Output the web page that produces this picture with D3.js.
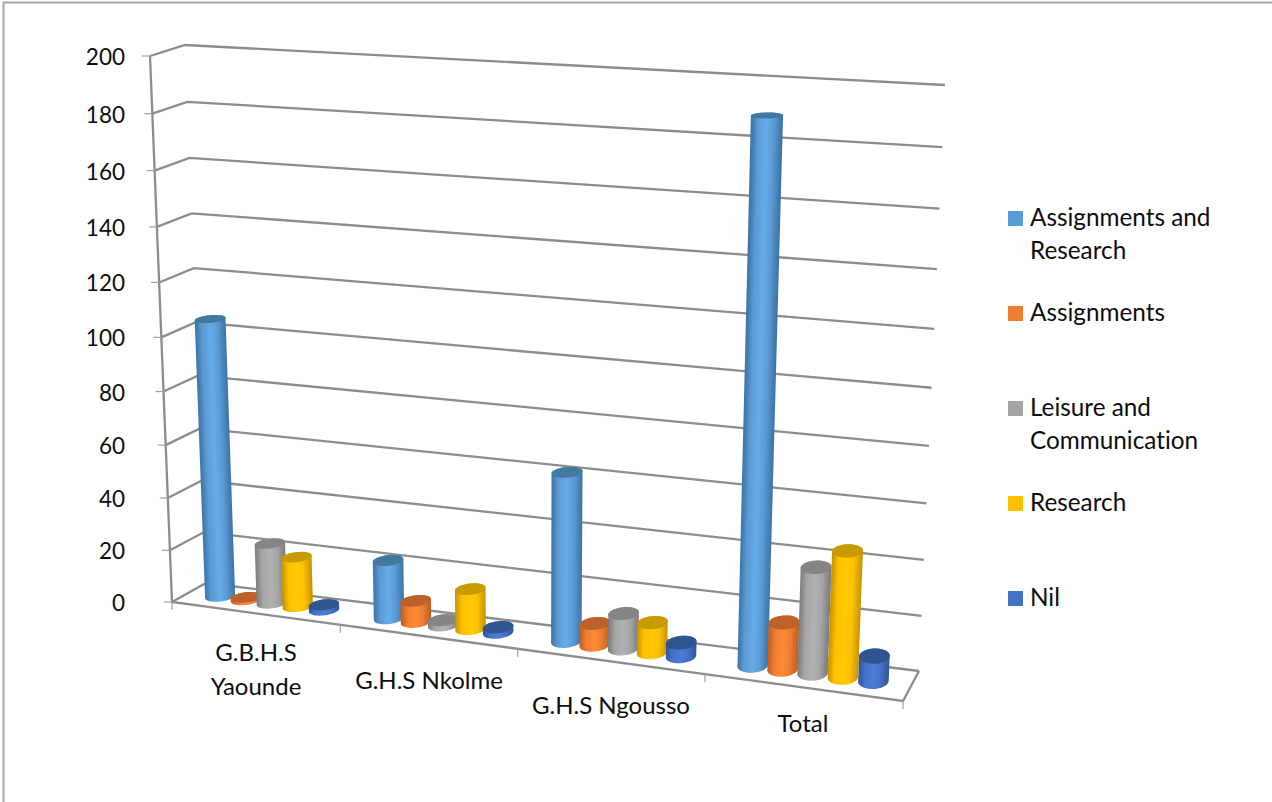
<!DOCTYPE html>
<html>
<head>
<meta charset="utf-8">
<script src="https://cdn.jsdelivr.net/npm/d3@7/dist/d3.min.js"></script>
<style>
  html, body { margin: 0; padding: 0; background: #fff; }
  svg { display: block; }
  text { font-family: Lato, "Open Sans", sans-serif; fill: #0d0d0d; font-variant-ligatures: none; }
</style>
</head>
<body>
<svg id="chart" width="1272" height="802"></svg>
<script>
// Chart content
const categories = ["G.B.H.S Yaounde", "G.H.S Nkolme", "G.H.S Ngousso", "Total"];
const seriesNames = ["Assignments and Research", "Assignments", "Leisure and Communication", "Research", "Nil"];
const assignmentsResearch = [105, 22, 62, 189];
const assignments = [1, 8, 8, 17];
const leisureCommunication = [23, 2, 13, 38];
const research = [19, 15, 11, 45];
const nil = [2, 2, 5, 9];
const seriesValues = [assignmentsResearch, assignments, leisureCommunication, research, nil];
const valueTicks = [0, 20, 40, 60, 80, 100, 120, 140, 160, 180, 200];

// Per-series palette: swatch, cylinder shading and lid
const swatchColors = ["#5B9BD5", "#ED7D31", "#A5A5A5", "#FFC000", "#4472C4"];
const edgeColors = ["#3C74A6", "#BD5E22", "#7B7B7B", "#C49400", "#2F5597"];
const lightColors = ["#66ABE8", "#FF8A36", "#B2B2B2", "#FFCB05", "#4A7DD8"];
const lidColors = ["#44789F", "#BE6029", "#858585", "#C79A00", "#305490"];

const svg = d3.select("#chart");
const defs = svg.append("defs");

// Frame around the chart area, open on the right and at the bottom
svg.append("path").attr("d", "M3.5,802V2.5H1272").attr("fill", "none").attr("stroke", "#A6A6A6").attr("stroke-width", 2);

// Heckbert's unit square to quad homography; corners ordered (0,0) (1,0) (1,1) (0,1)
function squareToQuad([p0, p1, p2, p3]) {
  const dx1 = p1[0] - p2[0], dx2 = p3[0] - p2[0], sx = p0[0] - p1[0] + p2[0] - p3[0];
  const dy1 = p1[1] - p2[1], dy2 = p3[1] - p2[1], sy = p0[1] - p1[1] + p2[1] - p3[1];
  const den = dx1 * dy2 - dx2 * dy1;
  const g = (sx * dy2 - dx2 * sy) / den;
  const h = (dx1 * sy - sx * dy1) / den;
  const a = p1[0] - p0[0] + g * p1[0], b = p3[0] - p0[0] + h * p3[0], c = p0[0];
  const d = p1[1] - p0[1] + g * p1[1], e = p3[1] - p0[1] + h * p3[1], f = p0[1];
  return (u, v) => {
    const q = g * u + h * v + 1;
    return [(a * u + b * v + c) / q, (d * u + e * v + f) / q];
  };
}

// Back and front planes of the 3-D box, in screen space: bottom-left, bottom-right, top-right, top-left
const backPlane = squareToQuad([[206, 583], [919, 671], [945, 85], [185, 45]]);
const frontPlane = squareToQuad([[172, 602], [903, 701], [930, 95], [150, 56]]);
// u along categories, t up the value axis, w from back wall (0) to front edge (1)
function project(u, t, w) {
  const b = backPlane(u, t), f = frontPlane(u, t);
  return [b[0] + (f[0] - b[0]) * w, b[1] + (f[1] - b[1]) * w];
}

const yScale = d3.scaleLinear().domain([0, 200]).range([0, 1]);
const xScale = d3.scaleBand().domain(categories).range([0, 1]);
const seriesScale = d3.scaleBand().domain(seriesNames).range([0, xScale.bandwidth()]).paddingInner(0).paddingOuter(0.72);
const radiusU = seriesScale.bandwidth() * 0.475;
const radiusW = 0.26;
const depthW = 0.5;

const line = d3.line();
const gridColor = "#8C8C8C";

// Walls: each gridline folds at the back-left corner
const grid = svg.append("g").attr("fill", "none").attr("stroke", gridColor).attr("stroke-width", 2.3);
grid.selectAll("path.grid").data(valueTicks).join("path").attr("class", "grid")
  .attr("d", v => line([project(0, yScale(v), 1), project(0, yScale(v), 0), project(1, yScale(v), 0)]));

// Value axis, front floor edge and right floor edge
grid.append("path").attr("d", line([project(0, 1, 1), project(0, 0, 1), project(1, 0, 1), project(1, 0, 0)]));

// Tick marks
const ticks = svg.append("g").attr("fill", "none").attr("stroke", "#A0A0A0").attr("stroke-width", 1.2);
ticks.selectAll("path.vtick").data(valueTicks).join("path").attr("class", "vtick")
  .attr("d", v => { const p = project(0, yScale(v), 1); return line([[p[0] - 8, p[1]], p]); });
const tickEdges = categories.map(c => xScale(c)).concat([1]);
ticks.selectAll("path.xtick").data(tickEdges).join("path").attr("class", "xtick")
  .attr("d", u => { const p = project(u, 0, 1); return line([p, [p[0], p[1] + 8]]); });

// Disc of a cylinder at a given value height, as a projected polygon
function disc(cu, t) {
  return d3.range(48).map(i => {
    const a = i / 48 * 2 * Math.PI;
    return project(cu + radiusU * Math.cos(a), t, depthW + radiusW * Math.sin(a));
  });
}

// Cylinders
const bars = svg.append("g");
const closedLine = d3.line().curve(d3.curveLinearClosed);
seriesNames.forEach((name, s) => {
  categories.forEach((cat, c) => {
    const cu = xScale(cat) + seriesScale(name) + seriesScale.bandwidth() / 2;
    const top = yScale(seriesValues[s][c]);
    const baseDisc = disc(cu, 0), topDisc = disc(cu, top);
    const base = project(cu, 0, depthW), head = project(cu, top, depthW);
    const ax = head[0] - base[0], ay = head[1] - base[1], len = Math.hypot(ax, ay) || 1;
    const nx = -ay / len, ny = ax / len;
    const r = d3.max(baseDisc, p => Math.abs((p[0] - base[0]) * nx + (p[1] - base[1]) * ny));
    const id = `shade-${s}-${c}`;
    const grad = defs.append("linearGradient").attr("id", id).attr("gradientUnits", "userSpaceOnUse")
      .attr("x1", base[0] - nx * r).attr("y1", base[1] - ny * r)
      .attr("x2", base[0] + nx * r).attr("y2", base[1] + ny * r);
    [[0, edgeColors[s]], [0.22, swatchColors[s]], [0.5, lightColors[s]], [0.72, swatchColors[s]], [1, edgeColors[s]]]
      .forEach(([o, col]) => grad.append("stop").attr("offset", o).attr("stop-color", col));
    const hull = d3.polygonHull(baseDisc.concat(topDisc));
    bars.append("path").attr("d", closedLine(hull)).attr("fill", `url(#${id})`);
    bars.append("path").attr("d", closedLine(topDisc)).attr("fill", lidColors[s]);
  });
});

// Value labels
svg.append("g").selectAll("text").data(valueTicks).join("text")
  .attr("x", 125)
  .attr("y", v => project(0, yScale(v), 1)[1] + 9)
  .attr("text-anchor", "end")
  .attr("font-size", 22.5)
  .text(v => v);

// Category labels, wrapped as laid out under the floor
const categoryLines = [["G.B.H.S", "Yaounde"], ["G.H.S Nkolme"], ["G.H.S Ngousso"], ["Total"]];
const categoryX = [256, 429, 611, 803];
const categoryBaseline = [661, 689, 714, 732];
const catLabels = svg.append("g").attr("text-anchor", "middle").attr("font-size", 24);
categoryLines.forEach((rows, i) => {
  rows.forEach((row, j) => catLabels.append("text")
    .attr("x", categoryX[i]).attr("y", categoryBaseline[i] + j * 34).text(row));
});

// Legend
const legendLines = [["Assignments and", "Research"], ["Assignments"], ["Leisure and", "Communication"], ["Research"], ["Nil"]];
const legendTop = [211, 306, 401, 496, 591];
const legend = svg.append("g");
legendLines.forEach((rows, i) => {
  legend.append("rect").attr("x", 1008).attr("y", legendTop[i]).attr("width", 15).attr("height", 15).attr("fill", swatchColors[i]);
  rows.forEach((row, j) => legend.append("text")
    .attr("x", 1030).attr("y", legendTop[i] + 15 + j * 33).attr("font-size", 24.3).text(row));
});
</script>
</body>
</html>
